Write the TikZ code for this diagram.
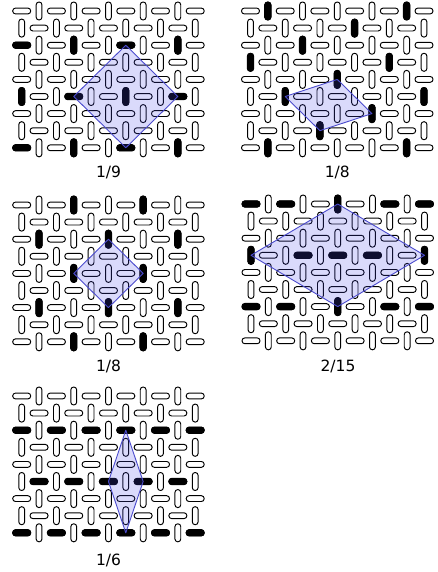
\documentclass[tikz,border=0pt]{standalone}
\usepackage{fontspec}
\setmainfont{DejaVu Sans}
\definecolor{cellline}{RGB}{75,75,205}
\definecolor{cellfill}{RGB}{70,70,235}
\tikzset{
  dom/.style={draw=black, line width=0.95pt, fill=white, rounded corners=2.8pt},
  blk/.style={draw=black, line width=0.95pt, fill=black, rounded corners=3pt},
  cellpoly/.style={draw=cellline, line width=0.9pt, fill=cellfill, fill opacity=0.2, line join=round},
  lab/.style={font=\fontsize{15.5}{18}\selectfont, inner sep=0pt},
}
\newcommand\tilingpanel[3]{%
  \begin{scope}[shift={(#1pt,-#2pt)}, x=17.35pt, y=-17.1pt]
    \foreach \r in {0,...,8}{\foreach \c in {0,...,10}{%
      \pgfmathtruncatemacro\pp{mod(\r+\c,2)}%
      \ifnum\pp=0
        \draw[dom] ([xshift=-9pt,yshift=-2.9pt]\c,\r) rectangle ++(18pt,5.8pt);
      \else
        \draw[dom] ([xshift=-2.9pt,yshift=-9pt]\c,\r) rectangle ++(5.8pt,18pt);
      \fi}}
    \foreach \c/\r in {#3}{%
      \pgfmathtruncatemacro\pp{mod(\r+\c,2)}%
      \ifnum\pp=0
        \draw[blk] ([xshift=-9pt,yshift=-3.2pt]\c,\r) rectangle ++(18pt,6.4pt);
      \else
        \draw[blk] ([xshift=-3.2pt,yshift=-9pt]\c,\r) rectangle ++(6.4pt,18pt);
      \fi}
  \end{scope}}
\begin{document}
\begin{tikzpicture}[x=1pt, y=-1pt]
  \useasboundingbox (0,0) rectangle (438,572);
  % panel 1
  \tilingpanel{21.7}{11}{0/2,3/2,6/2,9/2,0/5,3/5,6/5,9/5,0/8,3/8,6/8,9/8}
  \begin{scope}[shift={(21.7pt,-11pt)}, x=17.35pt, y=-17.1pt]
    \draw[cellpoly] (6,2) -- (3,5) -- (6,8) -- (9,5) -- cycle;
  \end{scope}
  \node[lab] (l1) at (108.5,172) {1/9};
  % panel 2
  \tilingpanel{250.5}{11}{1/0,9/0,6/1,3/2,0/3,8/3,5/4,2/5,10/5,7/6,4/7,1/8,9/8}
  \begin{scope}[shift={(250.5pt,-11pt)}, x=17.35pt, y=-17.1pt]
    \draw[cellpoly] (2,5) -- (5,4) -- (7,6) -- (4,7) -- cycle;
  \end{scope}
  \node[lab] (l2) at (337.3,172) {1/8};
  % panel 3
  \tilingpanel{21.7}{205}{3/0,7/0,1/2,5/2,9/2,3/4,7/4,1/6,5/6,9/6,3/8,7/8}
  \begin{scope}[shift={(21.7pt,-205pt)}, x=17.35pt, y=-17.1pt]
    \draw[cellpoly] (5,2) -- (3,4) -- (5,6) -- (7,4) -- cycle;
  \end{scope}
  \node[lab] (l3) at (108.5,366) {1/8};
  % panel 4
  \tilingpanel{251}{204}{0/0,2/0,5/0,8/0,10/0,0/3,3/3,5/3,7/3,10/3,0/6,2/6,5/6,8/6,10/6}
  \begin{scope}[shift={(251pt,-204pt)}, x=17.35pt, y=-17.1pt]
    \draw[cellpoly] (5,0) -- (0,3) -- (5,6) -- (10,3) -- cycle;
  \end{scope}
  \node[lab] (l4) at (338,366) {2/15};
  % panel 5
  \tilingpanel{21.7}{396}{0/2,2/2,4/2,6/2,8/2,10/2,1/5,3/5,5/5,7/5,9/5,0/8,2/8,4/8,6/8,8/8,10/8}
  \begin{scope}[shift={(21.7pt,-396pt)}, x=17.35pt, y=-17.1pt]
    \draw[cellpoly] (6,2) -- (5,5) -- (6,8) -- (7,5) -- cycle;
  \end{scope}
  \node[lab] (l5) at (108.5,560) {1/6};
\end{tikzpicture}
\end{document}
